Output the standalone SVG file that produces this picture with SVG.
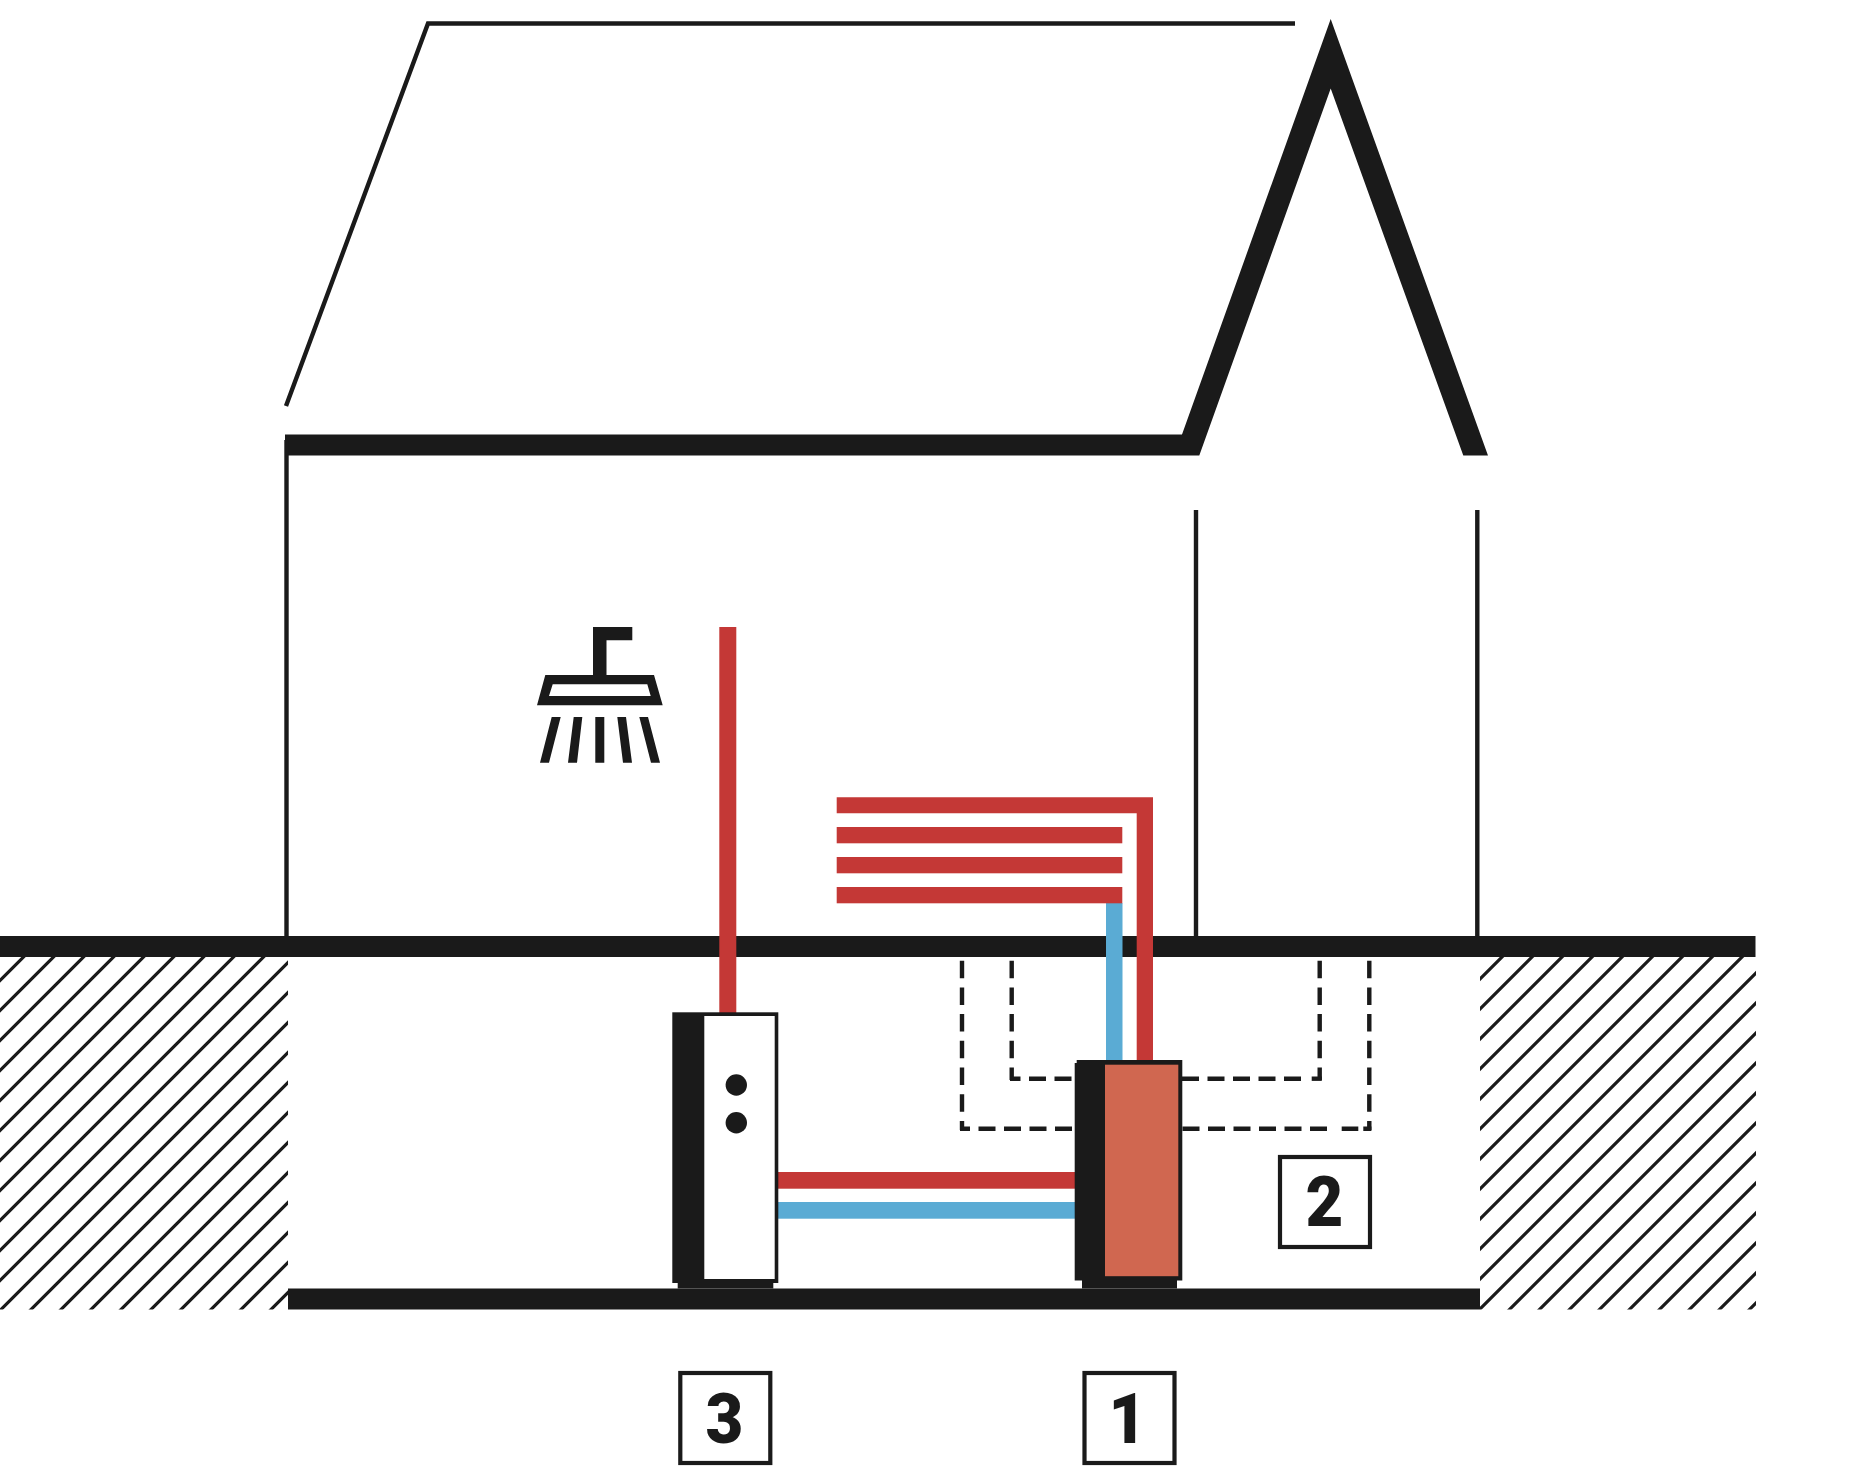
<svg xmlns="http://www.w3.org/2000/svg" width="1868" height="1478" viewBox="0 0 1868 1478">
<style>
.k{fill:#1a1a1a}
.r{fill:#c43836}
.b{fill:#5aabd4}
.thin{fill:none;stroke:#1a1a1a;stroke-width:4.4}
.dv{fill:none;stroke:#1a1a1a;stroke-width:4.4;stroke-dasharray:17.5 9.2}
.dh{fill:none;stroke:#1a1a1a;stroke-width:4.4;stroke-dasharray:17 8.5}
.ds{fill:none;stroke:#1a1a1a;stroke-width:4.4}
.box{fill:#fff;stroke:#1a1a1a;stroke-width:4.2}
.num{font-family:Roboto,"Liberation Sans",Arial,sans-serif;font-weight:900;font-size:71px;fill:#1a1a1a;text-anchor:middle}
</style>
<defs>
<pattern id="hl" patternUnits="userSpaceOnUse" width="30" height="30"><path d="M-5 25.5L25.5-5M-5 55.5L55.5-5" stroke="#1a1a1a" stroke-width="3.2" fill="none"/></pattern>
<pattern id="hr" patternUnits="userSpaceOnUse" width="30" height="30"><path d="M-5 34L34-5M-5 4L4-5M-5 64L64-5" stroke="#1a1a1a" stroke-width="3.2" fill="none"/></pattern>
</defs>
<rect width="1868" height="1478" fill="#fff"/>
<g id="ground">
<rect x="0" y="957" width="288" height="352.5" fill="url(#hl)"/>
<rect x="1480" y="957" width="276" height="352.5" fill="url(#hr)"/>
</g>
<g id="house">
<path class="thin" d="M286 406L428 23.5H1295"/>
<path class="k" d="M285 434.6H1182L1330.7 19L1488 455.6H1463.3L1330.7 88.5L1199.3 455.6H285Z"/>
<path class="thin" d="M286.5 440V940M1196 510V940M1477.3 510V940"/>
<rect class="k" x="0" y="936" width="1755.5" height="21"/>
<rect class="k" x="288" y="1288.5" width="1192" height="21"/>
</g>
<g id="probes">
<path class="dv" d="M962 960.7V1130"/><path class="dv" d="M1011.7 960.7V1080"/>
<path class="dv" d="M1319.7 960.7V1080"/><path class="dv" d="M1369.3 960.7V1130"/>
<path class="dh" stroke-dashoffset="7" d="M960 1128.7H1328.3"/>
<path class="ds" d="M1341.7 1128.7H1358.3M1363.3 1128.7H1371.4"/>
<path class="dh" stroke-dashoffset="6.5" d="M1010 1078.7H1302.7"/>
<path class="ds" d="M1311.7 1078.7H1321.8"/>
</g>
<g id="connectors">
<rect class="r" x="719.3" y="627" width="17" height="390"/>
<rect class="b" x="1106" y="903" width="16.5" height="160"/>
<path class="r" d="M836.7 797.3H1153V1063H1136.7V813.3H836.7Z"/>
<rect class="r" x="836.7" y="827" width="285.6" height="16.3"/>
<rect class="r" x="836.7" y="857" width="285.6" height="16.3"/>
<rect class="r" x="836.7" y="887" width="285.6" height="16.3"/>
<rect class="r" x="778" y="1172" width="300" height="16.7"/>
<rect class="b" x="778" y="1202" width="300" height="16.7"/>
</g>
<g id="shower">
<path class="k" d="M593 627H632.3V640.3H606.5V675H654L662.7 705.3H537L545.3 675H593ZM552.7 684.3L549 696H650.7L647.3 684.3Z" fill-rule="evenodd"/>
<path class="k" d="M551.7 717H560.7L549 762.7H540ZM573.7 717H582.3L577 762.7H568ZM595.3 717H604.3V762.7H595.3ZM617.3 717H626L632 762.7H623ZM639.3 717H648L660 762.7H651Z"/>
</g>
<g id="tank">
<rect class="k" x="677.7" y="1283" width="95.6" height="5.5"/>
<rect class="k" x="672.3" y="1012.3" width="106" height="270.7"/>
<rect x="704.3" y="1016" width="70.4" height="263" fill="#fff"/>
<circle class="k" cx="736.3" cy="1085" r="10.7"/>
<circle class="k" cx="736.3" cy="1122.7" r="10.7"/>
</g>
<g id="heatpump">
<rect class="k" x="1082" y="1280" width="95" height="8.5"/>
<path class="k" d="M1076.7 1060H1182.3V1280.5H1074.7V1063H1076.7Z"/>
<rect x="1105" y="1064.7" width="73.3" height="211.5" fill="#d06750"/>
</g>
<g id="label1"><rect class="box" x="1084.5" y="1373" width="90" height="90"/><text class="num" transform="translate(1127.5 1442.5) scale(.92 1)">1</text></g>
<g id="label2"><rect class="box" x="1280" y="1157" width="90" height="90"/><text class="num" transform="translate(1324.5 1226) scale(.92 1)">2</text></g>
<g id="label3"><rect class="box" x="680.3" y="1373" width="90" height="90"/><text class="num" transform="translate(724.5 1443) scale(.92 1)">3</text></g>
</svg>
